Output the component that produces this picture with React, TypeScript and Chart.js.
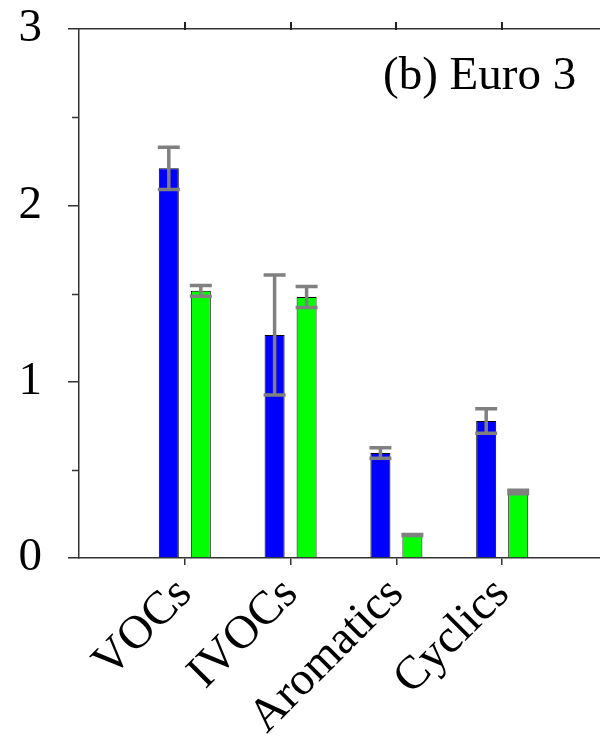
import React, { useEffect, useRef } from 'react';
import { Chart, registerables } from 'chart.js';

Chart.register(...registerables);

const categories = ['VOCs', 'IVOCs', 'Aromatics', 'Cyclics'];
const blueValues = [2.21, 1.265, 0.595, 0.777];
const blueErrors = [0.12, 0.34, 0.03, 0.07];
const greenValues = [1.515, 1.48, 0.13, 0.374];
const greenErrors = [0.03, 0.06, 0.003, 0.01];
const yMinorTicks = [0.5, 1.5, 2.5];
const yMax = 3;
const panelLabel = '(b) Euro 3';

const FONT = '"Liberation Serif", "Times New Roman", serif';
const AXIS = '#333333';

const pad = (arr: (number | null)[]) => [null, ...arr, null];
const allLabels = ['', ...categories, ''];
const edgeTransparent = (ctx: any) =>
  ctx.index === 0 || ctx.index === allLabels.length - 1 ? 'rgba(0,0,0,0)' : AXIS;

const zeroPad = (s: any) => {
  s.paddingLeft = 0;
  s.paddingRight = 0;
  s.paddingTop = 0;
  s.paddingBottom = 0;
};

const errorBarPlugin = {
  id: 'errorBars',
  afterDatasetsDraw(chart: any) {
    const ctx = chart.ctx;
    const yScale = chart.scales.y;
    ctx.save();
    ctx.strokeStyle = '#808080';
    ctx.lineWidth = 3.5;
    ctx.lineCap = 'butt';
    chart.data.datasets.forEach((ds: any, di: number) => {
      const meta = chart.getDatasetMeta(di);
      const errs: (number | null)[] = ds.errors;
      meta.data.forEach((el: any, i: number) => {
        const v = ds.data[i];
        const e = errs[i];
        if (v == null || e == null) return;
        const x = el.x;
        const yt = yScale.getPixelForValue(v + e);
        const yb = yScale.getPixelForValue(v - e);
        ctx.beginPath();
        ctx.moveTo(x, yt);
        ctx.lineTo(x, yb);
        ctx.moveTo(x - 11, yt);
        ctx.lineTo(x + 11, yt);
        ctx.moveTo(x - 11, yb);
        ctx.lineTo(x + 11, yb);
        ctx.stroke();
      });
    });
    ctx.restore();
  },
};

const extrasPlugin = {
  id: 'extras',
  afterDraw(chart: any) {
    const ctx = chart.ctx;
    const yScale = chart.scales.y;
    const left = chart.chartArea.left;
    const topY = Math.round(yScale.getPixelForValue(yMax));
    ctx.save();
    ctx.strokeStyle = AXIS;
    ctx.lineWidth = 1.5;
    yMinorTicks.forEach((v) => {
      const y = Math.round(yScale.getPixelForValue(v)) + 0.5;
      ctx.beginPath();
      ctx.moveTo(left, y);
      ctx.lineTo(left - 7, y);
      ctx.stroke();
    });
    // top-border ticks at each category, centred between the pair of bars
    const m0 = chart.getDatasetMeta(0).data;
    const m1 = chart.getDatasetMeta(1).data;
    ctx.fillStyle = '#222222';
    categories.forEach((_, i) => {
      const a = m0[i + 1];
      const b = m1[i + 1];
      if (!a || !b) return;
      const x = Math.round((a.x + b.x) / 2);
      ctx.fillRect(x - 1, topY - 7, 2, 8);
    });
    ctx.fillStyle = '#000';
    ctx.font = `47px ${FONT}`;
    ctx.textBaseline = 'alphabetic';
    ctx.textAlign = 'left';
    ctx.fillText(panelLabel, 383, 89);
    ctx.restore();
  },
};

export default function App() {
  const ref = useRef<HTMLCanvasElement | null>(null);
  useEffect(() => {
    if (!ref.current) return;
    const chart = new Chart(ref.current, {
      type: 'bar',
      data: {
        labels: allLabels,
        datasets: [
          {
            data: pad(blueValues),
            errors: pad(blueErrors),
            backgroundColor: '#0000ff',
            borderColor: '#000000',
            borderWidth: 1,
            barPercentage: 0.625,
            categoryPercentage: 0.605,
          } as any,
          {
            data: pad(greenValues),
            errors: pad(greenErrors),
            backgroundColor: '#00ff00',
            borderColor: '#000000',
            borderWidth: 1,
            barPercentage: 0.625,
            categoryPercentage: 0.605,
          } as any,
        ],
      },
      options: {
        responsive: false,
        animation: false,
        devicePixelRatio: 1,
        layout: { padding: 0 },
        plugins: { legend: { display: false }, tooltip: { enabled: false }, title: { display: false } },
        scales: {
          x: {
            type: 'category',
            position: 'bottom',
            offset: false,
            ticks: {
              color: '#000',
              font: { family: FONT, size: 47 },
              maxRotation: 45,
              minRotation: 45,
              autoSkip: false,
              padding: 2,
            },
            grid: { offset: false, drawOnChartArea: false, tickLength: 7, color: edgeTransparent, lineWidth: 1.5 },
            border: { display: true, color: AXIS, width: 1.5 },
            afterFit: (s: any) => {
              s.height = 189;
              zeroPad(s);
            },
          },
          x2: {
            type: 'category',
            position: 'top',
            offset: false,
            ticks: { display: false },
            grid: { display: false },
            border: { display: true, color: AXIS, width: 1.5 },
            afterFit: (s: any) => {
              s.height = 29;
              zeroPad(s);
            },
          },
          y: {
            min: 0,
            max: yMax,
            ticks: { stepSize: 1, color: '#000', font: { family: FONT, size: 47 }, padding: 26 },
            grid: { drawOnChartArea: false, tickLength: 11, color: AXIS, lineWidth: 1.5 },
            border: { display: true, color: AXIS, width: 1.5 },
            afterFit: (s: any) => {
              s.width = 79;
              zeroPad(s);
            },
          },
        },
      } as any,
      plugins: [errorBarPlugin, extrasPlugin],
    });
    return () => chart.destroy();
  }, []);
  return (
    <div
      style={{
        position: 'fixed',
        left: 0,
        top: 0,
        width: 600,
        height: 747,
        overflow: 'hidden',
        background: '#fff',
      }}
    >
      <canvas ref={ref} width={608} height={747} style={{ display: 'block' }} />
    </div>
  );
}
